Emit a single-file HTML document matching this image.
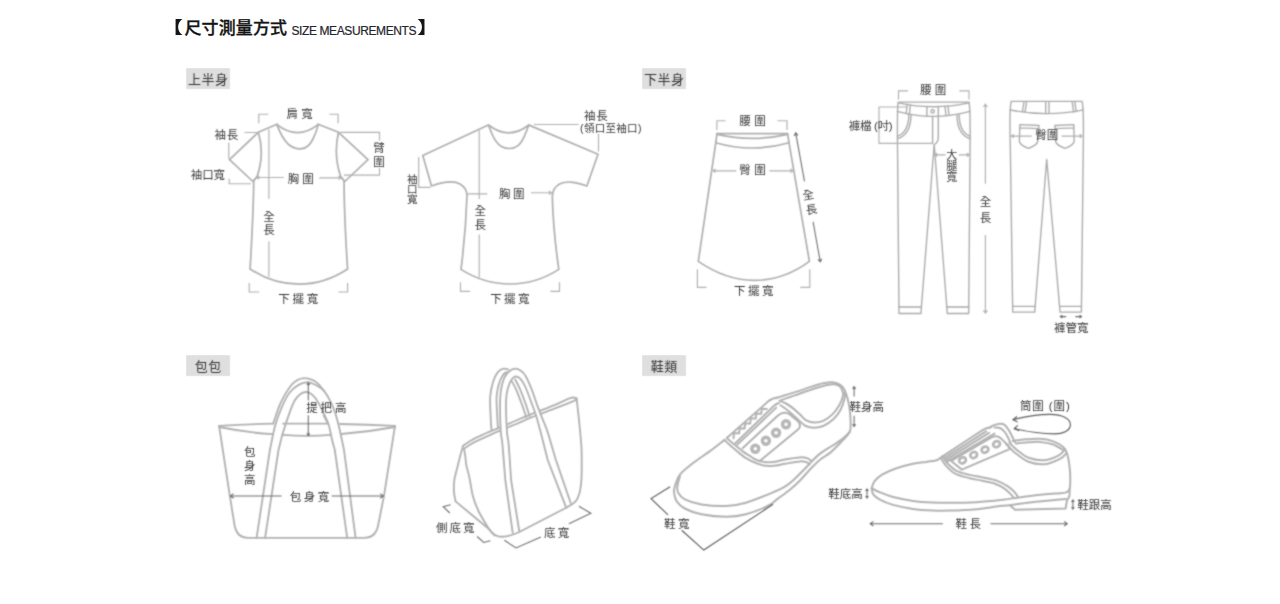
<!DOCTYPE html>
<html lang="zh-Hant">
<head>
<meta charset="utf-8">
<title>尺寸測量方式 SIZE MEASUREMENTS</title>
<style>
html,body{margin:0;padding:0;background:#fff;}
body{width:1280px;height:604px;overflow:hidden;position:relative;font-family:"Liberation Sans","Noto Sans CJK TC",sans-serif;}
.title{position:absolute;left:0;top:0;margin:0;font-size:17px;line-height:24px;font-weight:500;color:#151515;white-space:nowrap;}
.title span{position:absolute;top:17px;}
.title .zl{left:166.2px;font-weight:700;transform:scaleX(1.3);transform-origin:100% 50%;}
.title .zh{left:184.5px;letter-spacing:.1px;-webkit-text-stroke:.3px #151515;}
.title .en{left:291.5px;top:18.5px;font-size:12px;font-weight:normal;color:#25252c;letter-spacing:-.4px;-webkit-text-stroke:.2px #25252c;}
.title .zr{left:417.4px;font-weight:700;transform:scaleX(1.3);transform-origin:0 50%;}
.tag{position:absolute;width:44px;height:21px;background:#dfdfdf;color:#353535;font-size:13px;line-height:23.4px;text-align:center;white-space:nowrap;letter-spacing:.6px;text-indent:.6px;filter:url(#ft);}
svg{position:absolute;left:0;top:0;}
.g{fill:none;stroke:#afafaf;stroke-width:1.7;stroke-linecap:round;stroke-linejoin:round;}
.m{fill:none;stroke:#b0b0b0;stroke-width:1.15;}
.p{stroke:#aaa;stroke-width:1.35;}
#shoe1 .g,#shoe2 .g{stroke:#b2b2b2;stroke-width:2;}
#bag1 .g,#bag2 .g{stroke:#b1b1b1;stroke-width:1.85;}
.d{fill:none;stroke:#6c6c6c;stroke-width:1.05;}
.k{stroke:#5c5c5c;stroke-width:1.15;}
.e{fill:none;stroke:#b6b6b6;stroke-width:3.4;}
text{font-family:"Liberation Sans","Noto Sans CJK TC",sans-serif;font-size:11.5px;fill:#363636;text-anchor:middle;}
</style>
</head>
<body>
<h1 class="title"><span class="zl">【</span><span class="zh">尺寸測量方式</span><span class="en">SIZE MEASUREMENTS</span><span class="zr">】</span></h1>
<div class="tag" style="left:186px;top:68px">上半身</div>
<div class="tag" style="left:642px;top:68px">下半身</div>
<div class="tag" style="left:186px;top:355px">包包</div>
<div class="tag" style="left:642px;top:355px">鞋類</div>
<svg class="shapes" width="1280" height="604" viewBox="0 0 1280 604">
<defs><filter id="fb" x="0" y="0" width="1280" height="604" filterUnits="userSpaceOnUse" color-interpolation-filters="sRGB"><feConvolveMatrix order="3" kernelMatrix="0.05 0.1 0.05 0.1 0.4 0.1 0.05 0.1 0.05" edgeMode="none"/></filter></defs>
<g filter="url(#fb)">
<g id="tshirt1">
<path class="g" d="M277,124.2 L258.3,132.3 L229.5,159.7 L252.9,181.5 L257,176.8"/>
<path class="g" d="M318.1,124.2 L338.5,132.3 L368,159.7 L344.8,181.5 L340.8,176.8"/>
<path class="g" d="M258.3,132.3 C262.5,146 262.5,161 257,176.8 L253.7,180.8 C253.5,210 251.5,245 250.1,269 C265,279 282,284.2 298.8,284.2 C315.5,284.2 332.5,279 347.6,269 C346,245 344.2,210 344,180.8 L340.8,176.8 C335.3,161 335.3,146 338.5,132.3"/>
<path class="g" d="M276.8,124.4 C280,133 284,140 288,144 C292,147.5 296,148.9 300.3,148.9 C305,148.9 309.5,146 313,139 C315.5,134 317,129.5 318.3,124.4 M276.8,124.4 Q297.5,141 318.3,124.4"/>
<path class="m" d="M258.8,123.2 V114.2 H268.4 M329.4,114.2 H338.1 V123.2"/>
<path class="m" d="M244.5,132.5 H257.5 M228.8,142.4 V158.8 M229.2,178.8 V183.7 H251"/>
<path class="m" d="M268.9,129.5 V199 M268.9,241.5 V276.8"/>
<path class="m" d="M283.8,177.5 H256.8 M259.3,175.7 L256.8,177.5 L259.3,179.3 M319.3,177.8 H341 M338.5,176 L341,177.8 L338.5,179.6"/>
<path class="m" d="M340.3,132.3 H379.5 V140.5 M379.5,167.9 V175.1 H343.9"/>
<path class="m" d="M249.2,282.9 V292 H259.2 M338.5,292 H347.6 V282.9"/>
</g>
<g id="tshirt2">
<path class="g" d="M488.4,125.1 L422.8,155.5 L431.5,186 C440,183 452,179.5 460,184 C465,187 467,191 467,196 C466,225 463.5,250 461,269.4 C476,279 493,284 510,284 C527,284 544,279 558.8,269.4 C556,250 553,225 552.3,196 C552.5,191 555,186.5 560,183.8 C568,180 578,183 586.9,186 L598,154.3 L529,125.1"/>
<path class="g" d="M488.5,125 C490.5,130.5 492,134.5 494,138.1 C496.5,142.5 499,145 501.5,146.4 C504,147.8 506.5,148.5 509.7,148.5 C513,148.5 515.5,147.5 518,145.6 C520.5,143.5 522.8,140 524.6,135.6 C526.2,132 527.5,128.5 528.8,125 M488.5,125 Q508.8,140.6 528.8,125"/>
<path class="m" d="M534,124.5 H578.7 M598.5,133.6 V151.5"/>
<path class="m" d="M418.7,157 V187.4 H430.5"/>
<path class="m" d="M479.2,130.5 V199 M479.2,234.5 V277.4"/>
<path class="m" d="M467,193.9 H487.3 M531,192.7 H551.3 M548.8,190.9 L551.3,192.7 L548.8,194.5"/>
<path class="m" d="M460.5,282.3 V291.4 H470.1 M550.3,291.4 H559.5 V282.3"/>
</g>
<g id="skirt">
<path class="g" d="M717,133.7 H787.6 M717.3,134.3 Q752,142.5 787.3,134.3 M715.8,142.7 Q752,153.3 789,142.7"/>
<path class="g" d="M717,133.7 L715.8,142.7 L698.3,261.4 C716,273.5 735,280.4 754.3,280.4 C773.5,280.4 793,273.5 809.4,261.4 L789,142.7 L787.6,133.7"/>
<path class="m" d="M716.9,130.1 V120.7 H725.6 M777.5,120.7 H787 V130.1"/>
<path class="m" d="M736.3,170.8 H713 M715.6,169 L713,170.8 L715.6,172.6 M769.4,170.8 H793 M790.4,169 L793,170.8 L790.4,172.6"/>
<path class="d" d="M804.5,181.4 L795.7,132.8 M794.2,136 L795.7,132.8 L798,135.4 M813.1,221.9 L820.3,261.9 M818,259.3 L820.3,261.9 L821.8,258.7"/>
<path class="m" d="M697.4,269.2 V287.4 H706.5 M800.3,287.4 H809.8 V269.2"/>
</g>
<g id="pants-front">
<path class="g p" d="M898.2,102.1 H969 M898.2,102.1 C897.2,108 897.3,125 897.5,145 L899,313.5 L920.9,313.5 L934.2,144.5 L947.3,313.5 L968.7,313.5 L970.1,145 C970.3,125 970.2,108 969,102.1"/>
<path class="g p" d="M898.4,102.9 Q933,110.6 969,102.9 M897.3,111.4 Q933,121.4 970,111.4"/>
<path class="g p" d="M898.9,307 H921.4 M946.8,307 H968.8"/>
<path class="g p" d="M932.6,116.4 V143.5 M938.3,116.2 V137.5 Q938.2,142.5 934.4,144.5"/>
<path class="g p" d="M926.9,106.6 V116 M938.3,106.6 V116 M907.2,104.2 L906.2,113.6 M910.4,104.6 L909.4,114.2 M945,106.2 L946,115.6 M948,106 L949,115.2"/>
<circle class="g p" cx="932.6" cy="111.4" r="1.7"/>
<path class="g p" d="M911,114.8 C911,128 906,136 897.5,138.8 M908.8,114.4 C908.8,126.5 904.5,133.5 897.5,136.2 M957,114.8 C957,128 962,136 970,138.8 M959.2,114.4 C959.2,126.5 963.5,133.5 970,136.2"/>
<path class="m" d="M898.5,99.4 V90.8 H908 M959.4,90.8 H969 V99.4"/>
<path class="m" d="M907,107 H879 V143.4 H932.8"/>
<path class="m" d="M945.6,154.8 H934.8 M937.2,153.2 L934.8,154.8 L937.2,156.4 M958.8,154.8 H969.2 M966.8,153.2 L969.2,154.8 L966.8,156.4"/>
<path class="m" d="M985.4,183.7 V104.2 M983.4,107 L985.4,104.2 L987.4,107 M985.4,235 V313.1 M983.4,310.3 L985.4,313.1 L987.4,310.3"/>
</g>
<g id="pants-back">
<path class="g p" d="M1011.2,101.3 H1082.1 M1011.2,101.3 C1009.8,107 1009.8,125 1010.3,145 L1012.7,312.1 L1034.7,312.1 L1046.7,159.5 L1060.1,312.1 L1081.4,312.1 L1083.3,145 C1083.6,125 1083.5,107 1082.1,101.3"/>
<path class="g p" d="M1009.9,109.9 Q1047,117.4 1083.4,109.9 M1012.9,306.4 H1035.1 M1059.6,306.4 H1081.5"/>
<path class="g p" d="M1024,101.8 L1022.4,111.6 M1026.6,101.8 L1025,112 M1045.7,101.6 V113.4 M1049,101.6 V113.4 M1072.2,101.8 L1073.6,112 M1074.8,101.8 L1076.2,111.6"/>
<path class="g p" d="M1019.8,124.7 L1039,125.5 L1037.7,141.5 Q1037,145 1028.6,148.3 Q1020.5,145.5 1019.4,141.5 Z M1019.7,127.8 L1038.8,128.6"/>
<path class="g p" d="M1073.8,124.7 L1054.9,125.5 L1055.6,141.5 Q1056.3,145 1064.9,148.3 Q1073,145.5 1074.2,141.5 Z M1073.9,127.8 L1055,128.6"/>
<path class="m" d="M1031.7,136.1 H1011.4 M1013.8,134.5 L1011.4,136.1 L1013.8,137.7 M1061.6,136.1 H1082 M1079.6,134.5 L1082,136.1 L1079.6,137.7"/>
<path class="d" d="M1066.2,316.6 H1060.3 M1062.3,315.2 L1060.3,316.6 L1062.3,318 M1075.3,316.6 H1081.6 M1079.6,315.2 L1081.6,316.6 L1079.6,318"/>
</g>
<g id="bag1">
<path class="g" d="M219.1,425.9 L230,496.9 L234.5,525 Q236.8,537.8 248,537.8 L364.5,537.8 Q375.8,537.8 378.2,525 L383.8,496.9 L395,425.9"/>
<path class="g" d="M219.1,425.9 Q246,424.2 273.2,423.6 M283,423.6 H327.5 M340,424 Q368,424.4 395,425.9"/>
<path class="g" d="M219.3,427 Q246,432.5 272.3,434.2 M282.4,434.9 Q308,436.7 330.8,434.9 M341.2,434 Q368,432 394.8,427"/>
<path class="g" d="M256.6,537.8 L269.9,450.0 C270.8,445.9 273.2,432.8 275.2,425.6 C277.2,418.5 279.4,412.6 281.8,407.1 C284.2,401.6 286.8,396.2 289.7,392.5 C292.6,388.8 296.0,386.3 299.0,384.6 C302.0,382.9 305.1,382.2 307.7,382.2 C310.3,382.2 312.5,383.5 314.7,384.5 C316.9,385.5 319.4,387.1 321.0,388.2 C322.6,389.3 322.5,388.9 324.0,390.9 C325.5,392.9 328.1,396.8 329.8,400.1 C331.5,403.4 333.0,406.9 334.4,410.6 C335.8,414.3 336.8,418.1 337.9,422.2 C339.0,426.2 339.8,430.3 340.8,434.9 C341.8,439.5 343.5,447.5 344.0,450.0 L355.6,537.8"/>
<path class="g" d="M273.2,423.6 C274.4,420.2 277.8,409.2 280.5,403.1 C283.2,397.0 286.9,391.0 289.7,387.2 C292.4,383.4 294.6,381.8 297.0,380.3 C299.4,378.8 301.7,378.2 304.3,378.1 C306.9,378.0 310.1,378.9 312.4,379.9 C314.7,380.9 316.3,382.1 318.2,383.9 C320.1,385.7 323.0,389.7 324.0,390.9"/>
<path class="g" d="M265.1,537.8 L278.5,450.0 C279.3,447.1 281.2,438.6 283.1,432.3 C285.0,426.0 287.7,417.8 289.7,412.4 C291.7,407.0 293.1,403.2 295.0,400.1 C296.9,397.0 298.9,395.2 300.8,393.8 C302.7,392.4 304.7,391.8 306.6,392.0 C308.5,392.2 310.5,393.2 312.4,394.9 C314.3,396.6 316.3,399.2 318.2,402.4 C320.1,405.6 322.3,410.3 324.0,414.0 C325.7,417.7 327.2,420.2 328.6,424.5 C330.0,428.8 331.1,435.8 332.1,440.0 C333.1,444.2 334.4,448.3 334.8,450.0 L347.2,537.8"/>
<path class="g" d="M323.6,415.4 L327.8,423.4"/>
<path class="d" d="M308.3,382.8 V400.5 M308.3,415.2 V435.6 M306.9,385 L308.3,382.8 L309.7,385 M306.9,433.4 L308.3,435.6 L309.7,433.4"/>
<path class="d" d="M281.6,495.9 H230.4 M233.6,493.6 L230.4,495.9 L233.6,498.2 M331.6,495.9 H383.4 M380.2,493.6 L383.4,495.9 L380.2,498.2"/>
</g>
<g id="bag2">
<path class="g" d="M491.6,430.6 C491.5,428.8 491.0,425.6 490.8,420.0 C490.6,414.4 489.8,403.2 490.2,396.8 C490.6,390.4 491.9,385.8 493.1,381.7 C494.4,377.6 496.0,374.6 497.7,372.4 C499.4,370.2 501.8,369.2 503.5,368.7 C505.2,368.2 507.4,369.4 508.2,369.5"/>
<path class="g" d="M497.9,428.0 C497.8,425.8 497.4,420.2 497.2,415.0 C497.0,409.8 496.3,402.0 496.6,396.8 C496.9,391.6 497.9,387.5 498.9,384.0 C499.9,380.5 501.1,377.9 502.4,375.9 C503.6,373.9 505.7,372.6 506.4,371.9"/>
<path class="g" d="M515.1,379.4 C515.9,380.9 518.0,384.6 519.8,388.7 C521.5,392.8 524.1,399.4 525.6,403.7 C527.1,407.9 528.3,412.1 529.0,414.2 C529.7,416.2 529.5,415.7 529.6,416.0"/>
<path class="g" d="M511.7,381.1 C512.5,382.6 514.6,385.8 516.3,389.8 C518.0,393.8 520.5,400.6 522.1,404.9 C523.7,409.1 524.9,413.2 525.6,415.3 C526.3,417.4 526.1,416.9 526.2,417.2"/>
<path class="g" d="M463.0,445.9 C464.2,445.0 467.7,442.3 470.5,440.7 C473.3,439.1 476.3,437.7 479.8,436.1 C483.3,434.5 487.9,432.3 491.4,430.9 C494.9,429.4 496.7,429.0 500.6,427.4 C504.5,425.8 509.9,423.2 515.0,421.0 C520.1,418.8 524.7,416.9 531.4,414.2 C538.1,411.5 548.4,407.6 555.0,404.9 C561.6,402.2 567.2,399.0 570.8,397.9 C574.4,396.8 575.6,398.3 576.6,398.4"/>
<path class="g" d="M464.1,448.8 C465.4,447.9 469.1,445.1 471.7,443.6 C474.3,442.1 476.5,441.2 479.8,439.6 C483.1,438.1 487.9,435.9 491.4,434.3 C494.9,432.8 496.7,431.9 500.6,430.3 C504.5,428.7 509.9,426.6 515.0,424.5 C520.1,422.4 524.7,420.1 531.4,417.4 C538.1,414.7 547.5,411.3 555.0,408.4 C562.5,405.5 572.8,401.3 576.4,399.9"/>
<path class="g" d="M576.6,398.4 C577.0,402.0 578.2,412.2 579.0,420.0 C579.8,427.8 580.8,438.3 581.3,445.0 C581.8,451.7 581.7,454.2 581.7,460.0 C581.7,465.8 581.8,474.3 581.4,479.8 C581.0,485.3 580.5,489.4 579.5,493.0 C578.5,496.6 577.9,498.9 575.6,501.4 C573.3,503.9 567.4,506.9 565.7,508.0"/>
<path class="g" d="M565.7,508 L519.3,532 C512,535.5 505,537.2 499.5,536.6 C495,536 492,533 489.5,529.5"/>
<path class="g" d="M463.0,445.9 C462.5,447.6 461.2,452.3 460.1,456.4 C459.0,460.5 457.6,466.4 456.6,470.3 C455.6,474.2 454.8,476.5 454.3,480.0 C453.9,483.5 453.7,487.8 453.9,491.4 C454.1,495.0 455.3,499.7 455.6,501.4"/>
<path class="g" d="M455.6,501.4 L489.5,529.5"/>
<path class="g" d="M464.1,448.8 C464.3,450.1 464.9,453.6 465.3,456.4 C465.7,459.2 465.8,462.5 466.4,465.6 C467.0,468.7 468.2,472.5 468.8,474.9 C469.4,477.3 469.2,476.4 469.9,480.0 C470.6,483.6 471.6,491.2 473.0,496.4 C474.4,501.6 476.3,506.3 478.5,511.0 C480.7,515.7 484.3,521.2 486.2,524.5 C488.1,527.8 488.6,528.6 490.0,530.5 C491.4,532.4 494.0,534.8 494.8,535.6"/>
<path d="M512.7,532.8 L505.3,480.0 C504.8,474.2 503.2,453.0 502.5,445.0 C501.8,437.0 501.2,438.1 500.8,432.0 C500.4,425.9 500.0,415.2 500.0,408.4 C500.0,401.6 500.1,396.0 500.8,391.0 C501.5,386.0 502.7,381.5 504.1,378.2 C505.5,374.9 507.5,372.9 509.3,371.3 C511.1,369.7 513.2,368.8 515.1,368.7 C517.0,368.6 519.1,369.5 520.9,370.7 C522.6,371.9 523.9,372.9 525.6,375.9 C527.4,378.9 529.5,383.9 531.4,388.7 C533.3,393.5 535.2,399.7 537.1,404.9 C539.0,410.1 541.1,415.4 542.9,419.9 C544.6,424.4 545.4,425.3 547.6,432.0 C549.8,438.7 554.5,455.3 555.9,460.0 L570.7,503 L565.7,506.3 L547.7,460.0 C546.5,455.3 542.6,439.4 540.6,432.0 C538.6,424.6 537.5,420.2 536.0,415.3 C534.5,410.4 533.1,407.2 531.4,402.6 C529.7,398.0 527.4,391.4 525.6,387.5 C523.9,383.6 522.5,381.2 520.9,379.4 C519.3,377.6 517.6,376.7 516.3,376.5 C514.9,376.3 514.0,376.9 512.8,378.2 C511.6,379.4 510.3,381.3 509.3,384.0 C508.3,386.7 507.2,390.3 506.6,394.4 C506.1,398.5 505.9,402.1 506.0,408.4 C506.1,414.7 506.6,425.9 507.0,432.0 C507.4,438.1 508.0,437.0 508.7,445.0 C509.4,453.0 510.7,474.2 511.1,480.0 L519.3,531.5 Z" fill="#fff" stroke="none"/>
<path class="g" d="M512.7,532.8 L505.3,480.0 C504.8,474.2 503.2,453.0 502.5,445.0 C501.8,437.0 501.2,438.1 500.8,432.0 C500.4,425.9 500.0,415.2 500.0,408.4 C500.0,401.6 500.1,396.0 500.8,391.0 C501.5,386.0 502.7,381.5 504.1,378.2 C505.5,374.9 507.5,372.9 509.3,371.3 C511.1,369.7 513.2,368.8 515.1,368.7 C517.0,368.6 519.1,369.5 520.9,370.7 C522.6,371.9 523.9,372.9 525.6,375.9 C527.4,378.9 529.5,383.9 531.4,388.7 C533.3,393.5 535.2,399.7 537.1,404.9 C539.0,410.1 541.1,415.4 542.9,419.9 C544.6,424.4 545.4,425.3 547.6,432.0 C549.8,438.7 554.5,455.3 555.9,460.0 L570.7,503"/>
<path class="g" d="M519.3,531.5 L511.1,480.0 C510.7,474.2 509.4,453.0 508.7,445.0 C508.0,437.0 507.4,438.1 507.0,432.0 C506.6,425.9 506.1,414.7 506.0,408.4 C505.9,402.1 506.1,398.5 506.6,394.4 C507.2,390.3 508.3,386.7 509.3,384.0 C510.3,381.3 511.6,379.4 512.8,378.2 C514.0,376.9 514.9,376.3 516.3,376.5 C517.6,376.7 519.3,377.6 520.9,379.4 C522.5,381.2 523.9,383.6 525.6,387.5 C527.4,391.4 529.7,398.0 531.4,402.6 C533.1,407.2 534.5,410.4 536.0,415.3 C537.5,420.2 538.6,424.6 540.6,432.0 C542.6,439.4 546.5,455.3 547.7,460.0 L565.7,506.3"/>
<path class="d" d="M450.6,504.7 L443.2,506.7 L449.8,513 M477.1,536.5 L483.7,542.4 L490.4,540.8"/>
<path class="d" d="M504.4,540.3 L516,548 L540.9,537 M569,523.7 L590.9,513.3 L578.9,506.3"/>
</g>
<g id="shoe1">
<path class="g" d="M724.5,439.9 C722.0,441.8 714.8,447.5 709.6,451.4 C704.4,455.2 698.1,459.1 693.1,463.0 C688.1,466.9 682.9,470.7 679.9,474.6 C676.9,478.5 675.9,483.2 674.9,486.2 C673.9,489.2 673.8,490.3 674.1,492.8 C674.4,495.3 674.7,498.5 676.5,501.1 C678.3,503.7 680.6,506.3 684.8,508.5 C688.9,510.7 694.5,512.9 701.4,514.3 C708.3,515.7 718.8,516.8 726.2,516.8 C733.6,516.8 739.1,516.1 746.0,514.3 C752.9,512.5 762.3,508.6 767.6,506.0 C772.9,503.4 774.2,501.3 777.9,498.6 C781.6,495.9 786.2,492.7 789.9,489.7 C793.5,486.7 796.5,484.0 799.8,480.7 C803.1,477.4 806.4,473.3 809.7,469.8 C813.0,466.3 816.3,462.7 819.7,459.9 C823.1,457.1 826.9,455.4 830.0,452.9 C833.1,450.4 835.5,447.8 838.2,445.0 C840.9,442.2 844.4,438.8 846.4,436.4 C848.4,434.0 849.5,433.1 850.2,430.6 C850.9,428.1 850.7,424.9 850.6,421.4 C850.5,417.9 850.3,413.7 849.8,409.8 C849.3,405.9 848.5,401.7 847.5,398.2 C846.5,394.7 845.4,391.2 844.0,388.9 C842.6,386.6 841.3,385.4 839.4,384.3 C837.5,383.2 835.1,382.4 832.4,382.2 C829.7,382.0 826.7,382.6 823.2,383.3 C819.7,384.0 815.5,385.4 811.6,386.6 C807.7,387.8 804.1,389.3 800.0,390.6 C795.9,391.9 790.8,393.4 787.0,394.6 C783.2,395.8 779.1,397.1 777.5,397.6"/>
<path class="g" d="M679.9,476.3 C679.5,477.9 677.7,483.4 677.4,486.2 C677.1,488.9 677.0,490.6 678.2,492.8 C679.4,495.0 680.9,497.5 684.8,499.4 C688.7,501.3 694.5,503.3 701.4,504.4 C708.3,505.5 718.8,506.3 726.2,506.0 C733.6,505.7 738.7,504.8 746.0,502.7 C753.3,500.6 763.5,496.3 770.0,493.6 C776.5,490.9 780.8,489.2 784.9,486.7 C789.0,484.2 791.5,481.7 794.8,478.7 C798.1,475.7 802.0,471.7 804.8,468.8 C807.6,465.9 809.2,463.9 811.7,461.4 C814.2,458.9 816.7,456.3 819.7,453.9 C822.8,451.5 827.3,448.7 830.0,447.0 C832.7,445.3 833.7,445.1 836.0,443.5 C838.3,441.9 841.7,439.6 844.0,437.6 C846.3,435.7 848.8,432.8 849.8,431.8"/>
<path class="g" d="M727.0,438.2 C728.0,439.0 730.2,441.0 732.8,443.2 C735.4,445.4 739.9,449.3 742.7,451.4 C745.5,453.5 747.2,454.2 749.4,455.6 C751.6,457.0 753.2,458.6 756.0,459.7 C758.8,460.8 762.7,461.8 765.9,462.2 C769.1,462.6 771.8,462.3 775.0,461.8 C778.2,461.3 780.8,460.1 784.9,459.4 C789.0,458.7 796.0,457.6 799.8,457.4 C803.6,457.2 805.7,457.7 807.7,458.4 C809.7,459.1 811.0,460.9 811.7,461.4"/>
<path class="g" d="M724.5,439.9 C725.3,440.7 727.0,442.6 729.5,444.8 C732.0,447.0 736.6,450.9 739.4,453.1 C742.1,455.3 743.2,456.5 746.0,458.1 C748.8,459.8 752.7,461.7 756.0,463.0 C759.3,464.3 762.7,465.4 765.9,465.8 C769.1,466.2 771.8,465.9 775.0,465.6 C778.2,465.3 780.8,464.5 784.9,463.8 C789.0,463.1 796.2,461.6 799.8,461.4 C803.4,461.1 805.1,461.8 806.7,462.3 C808.4,462.8 809.2,464.0 809.7,464.3"/>
<path class="g" d="M779.6,400.6 C781.3,400.0 786.6,398.2 790.0,397.0 C793.4,395.8 796.4,394.8 800.0,393.5 C803.6,392.2 807.7,390.8 811.6,389.5 C815.5,388.2 819.7,386.9 823.2,386.0 C826.7,385.1 829.9,384.4 832.4,384.3 C834.9,384.2 836.7,384.6 838.2,385.4 C839.8,386.2 840.9,387.1 841.7,388.9 C842.5,390.6 843.3,393.2 842.9,395.9 C842.5,398.6 841.1,402.0 839.4,405.1 C837.6,408.2 835.1,411.8 832.4,414.4 C829.7,417.0 826.3,419.4 823.2,420.8 C820.1,422.2 816.8,422.6 813.9,422.5 C811.0,422.4 808.1,421.6 805.8,420.2 C803.5,418.8 802.2,416.4 800.0,414.4 C797.8,412.4 795.1,409.9 792.8,408.1 C790.5,406.3 788.0,404.6 786.0,403.5 C784.0,402.4 781.4,401.6 780.5,401.2"/>
<path class="g" d="M844.6,391.2 C844.6,392.4 845.3,395.1 844.6,398.2 C843.9,401.3 842.4,406.3 840.6,409.8 C838.8,413.3 836.5,416.3 833.6,419.0 C830.7,421.7 826.5,424.6 823.2,426.0 C819.9,427.4 816.8,427.7 813.9,427.7 C811.0,427.7 808.1,427.1 805.8,426.0 C803.5,424.9 802.1,423.2 800.0,421.4 C797.9,419.6 795.2,417.0 793.0,415.0 C790.8,413.0 788.6,411.1 786.5,409.5 C784.4,407.9 781.5,405.9 780.5,405.2"/>
<path class="g" d="M742.6,448.2 L778,415.4 Q783.8,410.6 789.5,414.2 L798,421.3 Q802,425.5 798,429.6 L759.7,461.1"/>
<path class="g" d="M737.4,444.6 L776.2,407.6 M735.6,443 L774,405.8 Q776.5,403.6 779,403 M726.8,438 L768,401.6 Q772,398.2 777.5,397.6"/>
<path class="g" style="stroke-width:2" d="M733.5,438.2 L734.0,433.2 L739.1,433.3 L739.6,428.3 L744.6,428.4 L745.1,423.4 L750.2,423.5 L750.7,418.5 L755.7,418.6 L756.2,413.6 L761.3,413.7 L761.8,408.7 L766.8,408.9"/>
<circle class="e" cx="755.3" cy="448.7" r="3.5"/>
<circle class="e" cx="765.9" cy="440.8" r="3.5"/>
<circle class="e" cx="776.1" cy="432.7" r="3.5"/>
<circle class="e" cx="786" cy="424.2" r="3.5"/>
<path class="d k" d="M670.1,486.8 L651.1,498.6 L668,514.9 M681.7,530.3 L703.8,550.1 L773,504.3"/>
<path class="d" d="M854.1,396.4 V386.6 M852.6,389 L854.1,386.6 L855.6,389 M854.1,415.8 V426.6 M852.6,424.2 L854.1,426.6 L855.6,424.2"/>
<path class="d" d="M867,489 V498 M865.6,491 L867,489 L868.4,491 M865.6,496 L867,498 L868.4,496"/>
</g>
<g id="shoe2">
<path class="g" d="M871.7,488.3 C872.2,487.1 872.8,483.4 874.6,481.1 C876.4,478.8 879.0,476.5 882.5,474.4 C886.0,472.3 890.7,470.3 895.8,468.5 C900.9,466.7 907.9,464.9 913.0,463.8 C918.1,462.7 922.5,462.4 926.2,461.9 C930.0,461.3 933.3,461.1 935.5,460.5 C937.7,459.9 938.3,459.3 939.5,458.6 C940.7,457.9 942.1,456.8 942.6,456.4"/>
<path class="g" d="M871.7,488.3 C873.1,489.0 876.3,490.9 879.9,492.3 C883.5,493.8 887.6,495.6 893.1,497.0 C898.6,498.4 906.4,500.0 913.0,500.9 C919.6,501.8 926.6,502.2 932.8,502.5 C939.0,502.8 942.7,502.9 950.0,502.8 C957.3,502.8 967.8,502.7 976.6,502.2 C985.5,501.7 996.0,500.5 1003.1,499.7 C1010.2,498.9 1012.5,498.3 1019.1,497.4 C1025.8,496.5 1036.2,495.2 1043.0,494.5 C1049.8,493.8 1056.2,493.6 1060.0,493.3 C1063.8,493.0 1064.1,493.0 1065.5,492.6 C1066.9,492.2 1067.8,491.6 1068.4,491.0 C1069.1,490.4 1069.2,489.3 1069.4,489.0"/>
<path class="g" d="M871.7,488.3 C872.0,489.3 871.8,492.4 873.2,494.3 C874.6,496.2 876.6,497.8 879.9,499.6 C883.2,501.4 887.6,503.3 893.1,504.9 C898.6,506.4 906.4,508.0 913.0,508.9 C919.6,509.8 926.6,510.2 932.8,510.5 C939.0,510.8 942.7,510.8 950.0,510.6 C957.3,510.4 968.9,509.9 976.6,509.2 C984.4,508.5 991.0,507.2 996.5,506.5 C1002.0,505.8 1004.3,505.9 1009.8,505.2 C1015.3,504.5 1023.1,503.3 1029.7,502.5 C1036.3,501.7 1043.6,501.1 1049.6,500.5 C1055.6,499.9 1062.9,499.2 1065.6,499.0"/>
<path class="g" d="M1009.8,505.2 L1015.1,509.8 L1065.6,508.5 L1067.2,499.2"/>
<path class="g" d="M1012.7,441.1 C1014.6,440.8 1019.3,439.9 1023.8,439.5 C1028.3,439.1 1034.9,438.4 1039.7,438.7 C1044.5,439.0 1048.5,439.6 1052.5,441.1 C1056.5,442.6 1061.1,445.1 1063.6,447.5 C1066.1,449.9 1066.5,451.4 1067.6,455.4 C1068.7,459.4 1069.6,466.6 1070.0,471.3 C1070.4,476.0 1070.3,480.1 1070.2,483.3 C1070.1,486.5 1069.7,488.4 1069.6,490.5 C1069.5,492.6 1069.7,494.6 1069.4,496.0 C1069.1,497.4 1067.9,498.7 1067.6,499.2"/>
<path class="g" d="M1015.9,443.5 C1017.9,443.3 1024.0,442.6 1028.0,442.3 C1032.0,442.0 1035.6,441.6 1039.7,441.9 C1043.8,442.2 1048.7,443.0 1052.5,444.3 C1056.3,445.6 1061.1,448.9 1062.8,449.8"/>
<path class="g" d="M1009.5,442.7 C1010.6,443.8 1012.7,446.6 1015.9,449.1 C1019.1,451.6 1023.8,456.0 1028.6,457.8 C1033.4,459.6 1039.5,460.6 1044.5,460.2 C1049.5,459.8 1055.3,457.2 1058.8,455.4 C1062.2,453.5 1064.1,450.2 1065.2,449.1"/>
<path class="g" d="M1006.4,444.3 C1007.7,445.6 1010.6,449.3 1014.3,452.2 C1018.0,455.1 1023.6,459.8 1028.6,461.8 C1033.6,463.8 1039.2,464.7 1044.5,464.2 C1049.8,463.7 1056.7,460.5 1060.4,458.6 C1064.1,456.7 1065.7,453.9 1066.8,453.0"/>
<path class="g" d="M942.6,456.4 L969.7,438.5 L983,429.9 Q987,427.2 991,427.2 M944.2,458.2 L986,431.4 M945.8,459.8 L989,432.8 M947.6,461.4 L994.5,433.6"/>
<path class="g" d="M989.0,428.0 C989.8,427.5 992.4,425.9 994.0,425.2 C995.6,424.5 997.2,424.0 998.9,423.9 C1000.6,423.8 1002.4,423.4 1004.2,424.6 C1006.0,425.8 1008.0,428.8 1009.5,431.2 C1011.0,433.6 1012.5,437.3 1013.4,439.1 C1014.3,440.9 1014.7,441.5 1015.0,442.0"/>
<path class="g" d="M994.5,427.6 C995.4,427.7 998.3,427.3 1000.0,428.0 C1001.7,428.7 1003.4,430.2 1004.8,432.0 C1006.2,433.8 1007.5,436.6 1008.5,438.5 C1009.5,440.4 1010.2,442.7 1010.5,443.5"/>
<path class="g" d="M951.2,461 L992,437.2 Q997,434.8 1001,438.4 L1008.6,446 Q1010.6,448.3 1008.4,449.6 L961.8,469.6 Z"/>
<ellipse class="e" cx="962.5" cy="460.3" rx="3.5" ry="2.9" style="stroke-width:2.7" transform="rotate(-25 962.5 460.3)"/>
<ellipse class="e" cx="973.7" cy="455" rx="3.5" ry="2.9" style="stroke-width:2.7" transform="rotate(-25 973.7 455)"/>
<ellipse class="e" cx="985" cy="449.7" rx="3.5" ry="2.9" style="stroke-width:2.7" transform="rotate(-25 985 449.7)"/>
<ellipse class="e" cx="996.6" cy="444.2" rx="3.5" ry="2.9" style="stroke-width:2.7" transform="rotate(-25 996.6 444.2)"/>
<path class="g" d="M942.6,456.4 C943.4,457.5 944.9,460.6 947.2,463.0 C949.5,465.4 952.8,468.9 956.5,470.9 C960.2,472.9 965.3,473.8 969.7,474.9 C974.1,476.0 978.5,476.6 983.0,477.5 C987.5,478.4 992.5,479.2 996.5,480.6 C1000.5,482.0 1004.2,484.1 1007.1,485.9 C1010.0,487.7 1012.0,489.5 1013.8,491.3 C1015.6,493.1 1017.1,495.7 1017.7,496.6"/>
<path class="g" d="M940.6,457.7 C941.5,459.0 943.5,463.0 945.9,465.6 C948.3,468.2 951.2,471.5 955.2,473.6 C959.2,475.7 965.1,477.0 969.7,478.2 C974.3,479.4 979.0,480.0 983.0,480.9 C987.0,481.8 990.2,482.0 993.8,483.3 C997.4,484.6 1001.6,486.7 1004.5,488.6 C1007.4,490.5 1009.6,493.1 1011.1,494.6 C1012.6,496.2 1013.3,497.3 1013.8,497.9"/>
<path class="d k" d="M1013,419.7 C1026,416.2 1039,414.3 1050.2,414.3 C1062,414.3 1070.4,418.5 1070.4,424.6 C1070.4,430.5 1063.5,433.9 1054.5,433.9 C1042,433.9 1027,431.6 1014.3,428.6"/>
<path class="d k" d="M1017,416.4 L1013,419.7 L1017.6,422 M1017.8,425.4 L1014.3,428.6 L1019.2,430.6"/>
<path class="d" d="M942.8,523.7 H870.2 M873.4,521.4 L870.2,523.7 L873.4,526 M990.5,523.7 H1067.3 M1064.1,521.4 L1067.3,523.7 L1064.1,526"/>
<path class="d" d="M1072.9,500 V509.2 M1071.5,502 L1072.9,500 L1074.3,502 M1071.5,507.2 L1072.9,509.2 L1074.3,507.2"/>
</g>
</g>
</svg>
<svg class="labels" width="1280" height="604" viewBox="0 0 1280 604">
<defs><filter id="ft" x="0" y="0" width="1280" height="604" filterUnits="userSpaceOnUse" color-interpolation-filters="sRGB"><feConvolveMatrix order="3" kernelMatrix="0.04 0.09 0.04 0.09 0.48 0.09 0.04 0.09 0.04" edgeMode="none"/></filter></defs>
<g filter="url(#ft)">
<g>
<text x="301.2" y="117.6" letter-spacing="3.2">肩寬</text>
<text x="226.7" y="138.8" letter-spacing=".8">袖長</text>
<text x="207.8" y="179.2" letter-spacing="-.2">袖口寬</text>
<text x="302.2" y="183.2" letter-spacing="3">胸圍</text>
<text x="378.9" y="152.2">臂<tspan x="378.9" y="166.0">圍</tspan></text>
<text x="268.9" y="221.0">全<tspan x="268.9" y="234.2">長</tspan></text>
<text x="299.6" y="303.2" letter-spacing="2.7">下擺寬</text>
</g>
<g>
<text x="596.2" y="119.9" letter-spacing=".8">袖長</text>
<text x="610.9" y="132.4" letter-spacing=".3" style="font-size:10.5px">(領口至袖口)</text>
<text x="412.2" y="182.6" style="font-size:10.6px">袖<tspan x="412.2" y="192.8">口</tspan><tspan x="412.2" y="203.4">寬</tspan></text>
<text x="513" y="197.9" letter-spacing="2.6">胸圍</text>
<text x="480.2" y="214.8">全<tspan x="480.2" y="228.6">長</tspan></text>
<text x="511" y="302.5" letter-spacing="2.4">下擺寬</text>
</g>
<g>
<text x="754.2" y="125.1" letter-spacing="3.4">腰圍</text>
<text x="754.2" y="174.2" letter-spacing="3.4">臀圍</text>
<text x="808.2" y="199.0" transform="rotate(-10 808.2 194.4)">全<tspan x="808.7" y="213.8">長</tspan></text>
<text x="755" y="295.3" letter-spacing="2.5">下擺寬</text>
</g>
<g>
<text x="934.8" y="94.1" letter-spacing="3.4">腰圍</text>
<text x="870.6" y="130.2" letter-spacing="-.3">褲檔 (吋)</text>
<text x="951.7" y="158.8" style="font-size:11px">大<tspan x="951.7" y="170.0">腿</tspan><tspan x="951.7" y="181.2">寬</tspan></text>
<text x="985.4" y="206.2">全<tspan x="985.4" y="221.6">長</tspan></text>
</g>
<g>
<text x="1046.7" y="139.2">臀圍</text>
<text x="1071.3" y="332.3">褲管寬</text>
</g>
<g>
<text x="327.8" y="412.0" letter-spacing="2.9">提把高</text>
<text x="249.7" y="455.9">包<tspan x="249.7" y="469.6">身</tspan><tspan x="249.7" y="483.7">高</tspan></text>
<text x="310.8" y="500.5" letter-spacing="2.6">包身寬</text>
</g>
<g>
<text x="456.3" y="532.4" letter-spacing="2.05">側底寬</text>
<text x="557.8" y="536.9" letter-spacing="2.2">底寬</text>
</g>
<g>
<text x="678" y="527.9" letter-spacing="2.6">鞋寬</text>
<text x="866.7" y="411.0">鞋身高</text>
<text x="845.6" y="498.2">鞋底高</text>
</g>
<g>
<text x="1045.3" y="410.4" letter-spacing=".9">筒圍 (圍)</text>
<text x="969.6" y="528.2" letter-spacing="2.6">鞋長</text>
<text x="1094.5" y="509.2">鞋跟高</text>
</g>
</g>
</svg>
</body>
</html>
